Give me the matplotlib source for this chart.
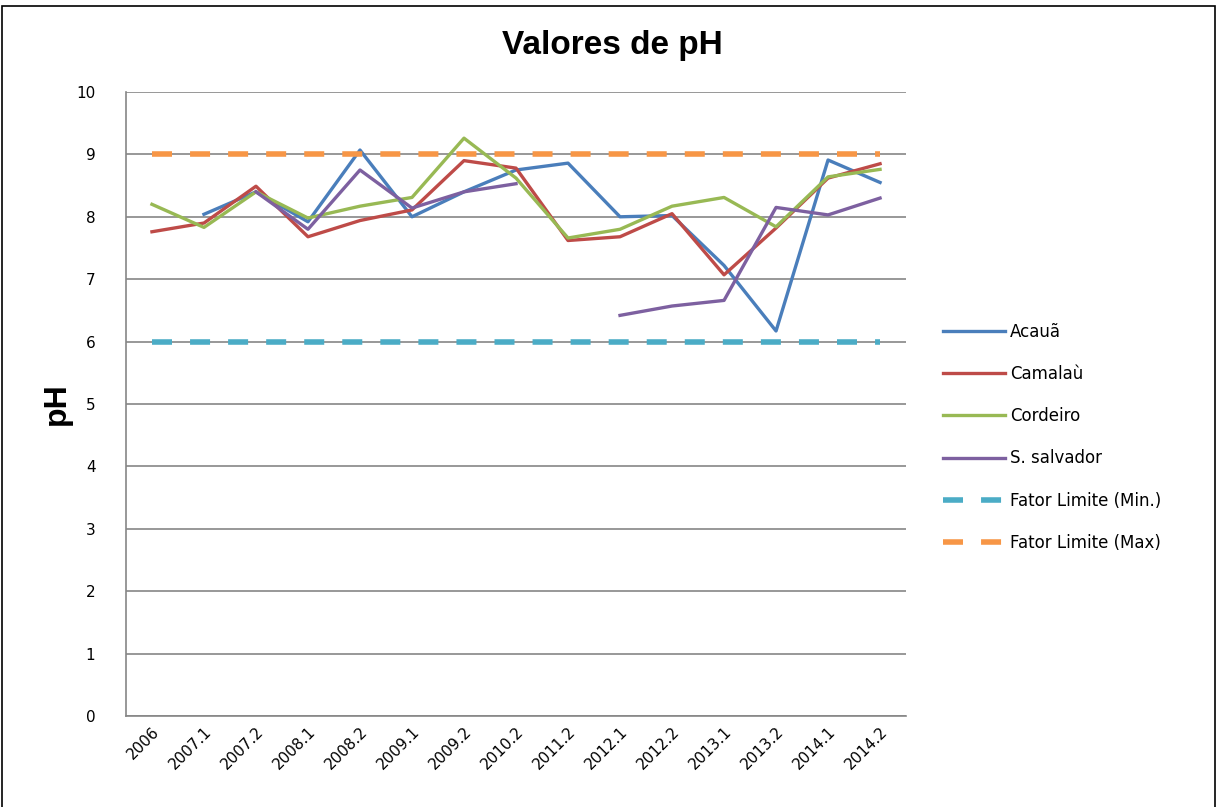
import numpy as np
import matplotlib
matplotlib.use('Agg')
import matplotlib.pyplot as plt
from matplotlib.patches import Rectangle

periodos = ['2006', '2007.1', '2007.2', '2008.1', '2008.2', '2009.1', '2009.2', '2010.2',
            '2011.2', '2012.1', '2012.2', '2013.1', '2013.2', '2014.1', '2014.2']
nan = np.nan
acaua = [nan, 8.04, 8.40, 7.92, 9.07, 8.00, 8.40, 8.75, 8.86, 8.00, 8.02, 7.22, 6.17, 8.91, 8.55]
camalau = [7.76, 7.90, 8.49, 7.68, 7.94, 8.11, 8.90, 8.78, 7.62, 7.68, 8.05, 7.07, 7.82, 8.62, 8.85]
cordeiro = [8.20, 7.83, 8.40, 7.98, 8.17, 8.31, 9.26, 8.62, 7.66, 7.80, 8.17, 8.31, 7.84, 8.64, 8.76]
s_salvador = [nan, nan, 8.40, 7.80, 8.75, 8.14, 8.40, 8.53, nan, 6.42, 6.57, 6.66, 8.15, 8.03, 8.30]
lim_min = [6] * 15
lim_max = [9] * 15

x = np.arange(len(periodos))

fig = plt.figure(figsize=(12.17, 8.07), dpi=100)
ax = fig.add_axes([0.1035, 0.1128, 0.641, 0.7732])

ax.plot(x, acaua, color='#4A7EBB', lw=2.4, label='Acauã')
ax.plot(x, camalau, color='#BE4B48', lw=2.4, label='Camalaù')
ax.plot(x, cordeiro, color='#98B954', lw=2.4, label='Cordeiro')
ax.plot(x, s_salvador, color='#7D60A0', lw=2.4, label='S. salvador')
ax.plot(x, lim_min, color='#4BACC6', lw=4, dashes=(3.6, 3.25), dash_capstyle='butt', label='Fator Limite (Min.)')
ax.plot(x, lim_max, color='#F79646', lw=4, dashes=(3.6, 3.25), dash_capstyle='butt', label='Fator Limite (Max)')

ax.set_xlim(-0.5, 14.5)
ax.set_ylim(0, 10)
ax.set_yticks(range(0, 11))
ax.set_xticks(x)
ax.set_xticklabels(periodos, rotation=45, ha='right', rotation_mode='anchor', fontsize=11)
ax.tick_params(axis='y', labelsize=11, length=0, pad=22)
ax.tick_params(axis='x', length=0, pad=6)
ax.grid(axis='y', color='#868686', lw=1.2)
ax.set_axisbelow(True)
for s in ['top', 'right']:
    ax.spines[s].set_visible(False)
for s in ['left', 'bottom']:
    ax.spines[s].set_color('#868686')
    ax.spines[s].set_linewidth(1.2)

fig.text(0.503, 0.944, 'Valores de pH', ha='center', va='center', fontsize=24,
         fontweight='bold', family='Liberation Sans')
fig.text(0.047, 0.5, 'pH', ha='center', va='center', rotation=90, fontsize=23,
         fontweight='bold', family='Liberation Sans')

fig.legend(loc='upper left', bbox_to_anchor=(943 / 1217, 1 - 323 / 807), frameon=False,
           fontsize=12, handlelength=3.7, handletextpad=0.3, labelspacing=1.45,
           borderpad=0, borderaxespad=0)

fig.patches.append(Rectangle((0.002, -0.01), 0.996, 1 - 0.007 + 0.01, transform=fig.transFigure,
                             fill=False, edgecolor='black', lw=1.2))

fig.savefig('out.png', dpi=100)
